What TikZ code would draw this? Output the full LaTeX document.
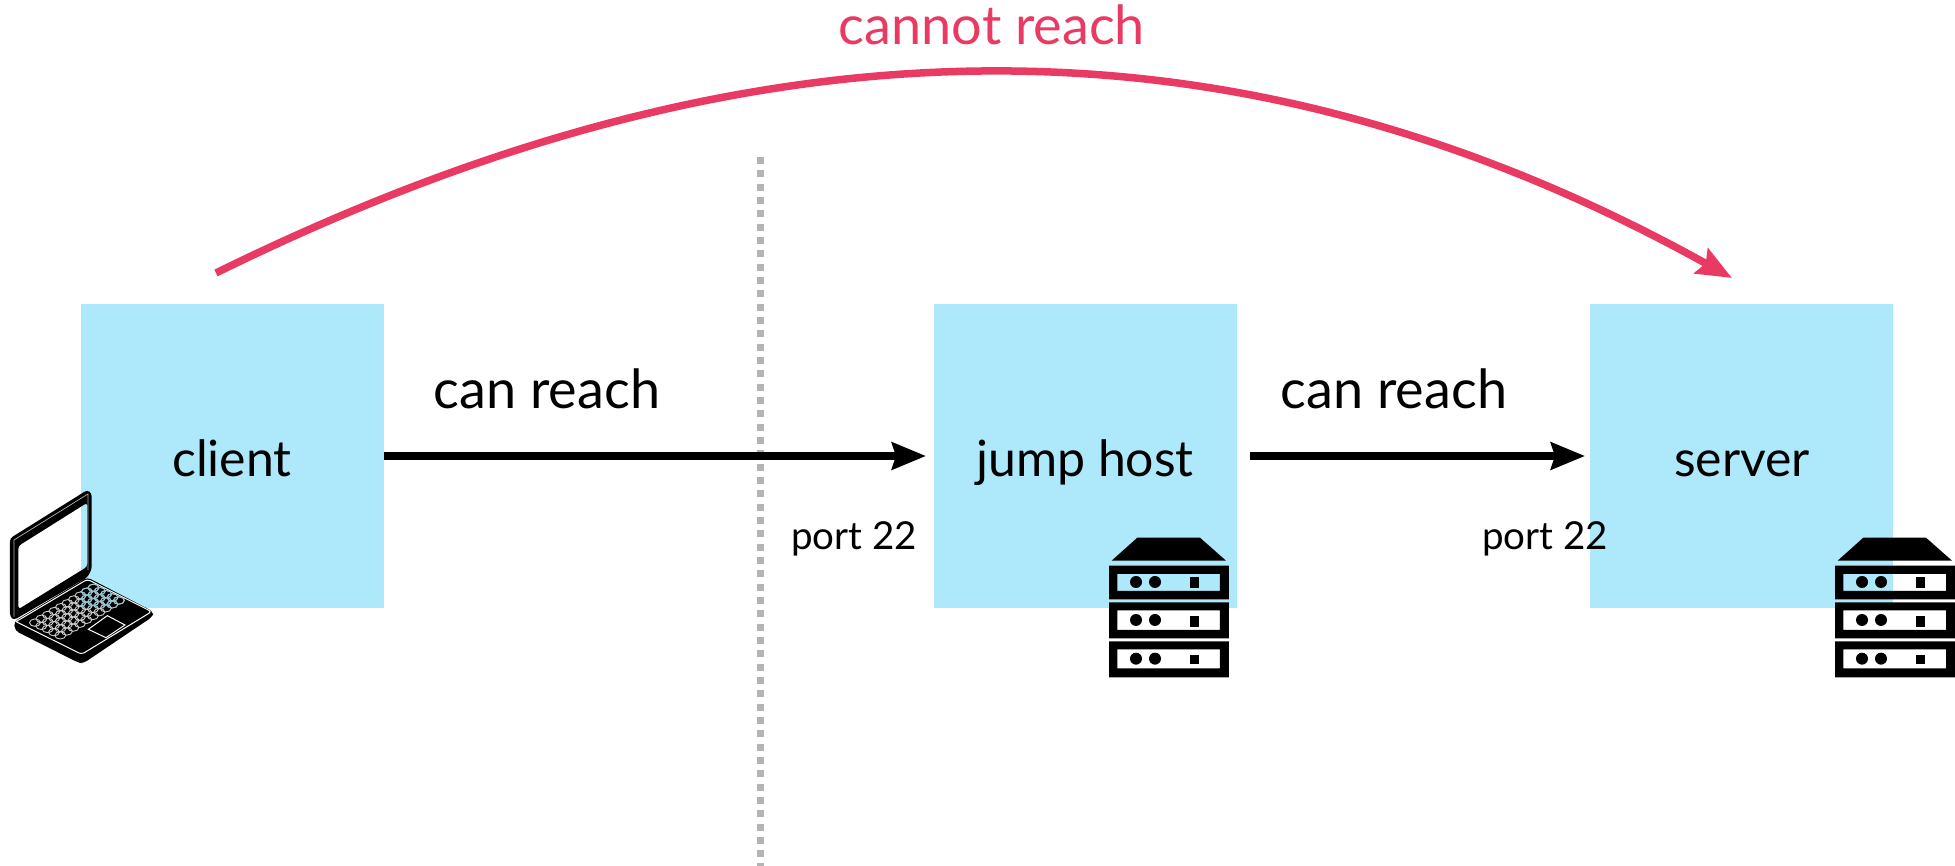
\documentclass[tikz,border=0pt]{standalone}
\usepackage{fontspec}
\setmainfont{Lato}
\usetikzlibrary{arrows.meta}
\definecolor{boxblue}{HTML}{ADE9FB}
\definecolor{reachred}{HTML}{E83A62}
\definecolor{dotgray}{HTML}{B4B4B4}
\tikzset{
  x=1pt,y=-1pt,
  hostbox/.style={fill=boxblue,draw=none,minimum width=303pt,minimum height=304pt,inner sep=0pt},
  reach/.style={font=\fontsize{54}{58}\selectfont,inner sep=0pt,anchor=base},
  hostlabel/.style={font=\fontsize{50}{54}\selectfont,inner sep=0pt,anchor=base},
  portlabel/.style={font=\fontsize{38.5}{44}\selectfont,inner sep=0pt,anchor=base},
  linkarrow/.style={line width=7pt,-{Stealth[length=34pt,width=27pt,inset=4pt]}},
  redarrow/.style={line width=7.5pt,draw=reachred,-{Stealth[length=35pt,width=28pt,inset=5pt]}},
}
\newcommand{\servericon}[2]{%
\begin{scope}[shift={(#1,#2)},x=0.3333pt,y=-0.3333pt]
  \fill[black] (65,122)--(142,53)--(330,53)--(408,122)--cycle;
  \fill[black,even odd rule] (57,137) rectangle (417,238) (82,162) rectangle (390,213);
  \fill[black,even odd rule] (57,247) rectangle (417,355) (82,271) rectangle (390,330);
  \fill[black,even odd rule] (57,364) rectangle (417,472) (82,388) rectangle (390,445);
  \foreach \yy in {186,300,416} {
    \fill[black] (138,\yy) circle[radius=6pt] (195,\yy) circle[radius=6pt];
  }
  \fill[black] (299,171) rectangle (326,205);
  \fill[black] (299,288) rectangle (326,322);
  \fill[black] (299,405) rectangle (326,431);
\end{scope}}
\newcommand{\laptopkeys}[1]{%
  \foreach \cc in {0,...,9} {\foreach \rr in {0,...,4} {
    \draw[#1,line width=0.9pt] ({105+19.5*\cc+19*\rr},{458-11.6*\cc+9.5*\rr}) ellipse[x radius=5.5pt,y radius=3.7pt];
  }}}
\begin{document}
\begin{tikzpicture}
\useasboundingbox (0,0) rectangle (1955,866);
\coordinate (dotTop) at (760.3,157);
\coordinate (dotEnd) at (760.3,866);
\draw[dotgray,line width=7pt,dash pattern=on 7pt off 6.33pt] (dotTop) -- (dotEnd);
\node[hostbox] (client) at (232.5,456) {};
\node[hostbox] (jump) at (1085.5,456) {};
\node[hostbox] (server) at (1741.5,456) {};
\node[hostlabel] (clientlabel) at (232,476) {client};
\node[hostlabel] (jumplabel) at (1085,476) {jump host};
\node[hostlabel] (serverlabel) at (1742,476) {server};
\node[reach] (reach1) at (547,409) {can reach};
\node[reach] (reach2) at (1394,409) {can reach};
\node[portlabel] (port1) at (854,549) {port 22};
\node[portlabel] (port2) at (1545,549) {port 22};
\node[reach,text=reachred] (cannot) at (992,45) {cannot reach};
\coordinate (cstart) at (384,456);
\coordinate (jin) at (926,456);
\coordinate (jout) at (1250,456);
\coordinate (sin) at (1585,456);
\draw[linkarrow] (cstart) -- (jin);
\draw[linkarrow] (jout) -- (sin);
\coordinate (rstart) at (216,273);
\coordinate (rend) at (1732,278);
\draw[redarrow] (rstart) .. controls (760,5) and (1240,5) .. (rend);
\servericon{1090}{520}
\servericon{1816}{520}
\begin{scope}[shift={(0,470)},x=0.3333pt,y=-0.3333pt]
  \fill[black,even odd rule,rounded corners=3pt]
    (30,205)--(262,60)--(275,70)--(275,298)--(262,322)--(42,450)--(30,440)--cycle
    (55,228)--(262,98)--(262,290)--(55,418)--cycle;
  \draw[white!70!black,line width=0.7pt] (42,440)--(42,210)--(264,72)--(264,300);
  \fill[black,rounded corners=4pt] (42,455)--(262,322)--(460,425)--(458,440)--(250,580)--(235,578)--(45,482)--cycle;
  \draw[white,line width=1pt,rounded corners=3pt] (48,455)--(262,328)--(455,425)--(245,553)--(48,455);
  \draw[white,line width=1pt] (265,478)--(322,437)--(375,465)--(318,503)--cycle;
  \laptopkeys{white!80!black}
  \begin{scope}
    \clip (240,0) rectangle (600,414);
    \laptopkeys{boxblue!85!black}
  \end{scope}
\end{scope}
\end{tikzpicture}
\end{document}
